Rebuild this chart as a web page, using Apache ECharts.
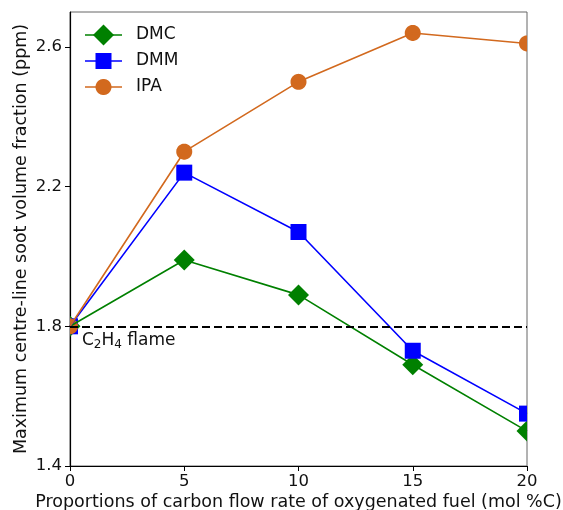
<!DOCTYPE html>
<html>
<head>
<meta charset="utf-8">
<script src="https://cdn.jsdelivr.net/npm/echarts@6/dist/echarts.min.js"></script>
<style>
  html, body { margin: 0; padding: 0; background: #fff; overflow: hidden; }
  #chart { width: 563px; height: 510px; }
</style>
</head>
<body>
<div id="chart"></div>
<script>
// Oxygenated fuel share (mol %C) on the x axis
const proportions = [0, 5, 10, 15, 20];
// Maximum centre-line soot volume fraction (ppm)
const dmcValues = [1.80, 1.99, 1.89, 1.69, 1.50];
const dmmValues = [1.80, 2.24, 2.07, 1.73, 1.55];
const ipaValues = [1.80, 2.30, 2.50, 2.64, 2.61];
// Reference ethylene flame level
const baselineValue = 1.80;
const yTicks = [1.4, 1.8, 2.2, 2.6];
const xTicks = [0, 5, 10, 15, 20];

const FONT = 'DejaVu Sans';
const pairs = vals => proportions.map((x, i) => [x, vals[i]]);

const SERIES_STYLE = [
  { name: 'DMC', vals: dmcValues, color: '#008000', shape: 'diamond', size: 21 },
  { name: 'DMM', vals: dmmValues, color: '#0000ff', shape: 'rect', size: 16 },
  { name: 'IPA', vals: ipaValues, color: '#d2691e', shape: 'circle', size: 16 }
];

const chart = echarts.init(document.getElementById('chart'), null, { renderer: 'canvas' });

// Connecting line for one fuel
function lineSeries(s) {
  return {
    name: s.name,
    type: 'line',
    data: pairs(s.vals),
    symbol: 'none',
    clip: true,
    lineStyle: { color: s.color, width: 1.6 },
    emphasis: { disabled: true },
    z: 3
  };
}

// Sutherland–Hodgman clipping of a polygon to an axis-aligned rectangle
function clipToRect(pts, r) {
  const edges = [
    [p => p[0] >= r.x,            (a, b) => { const t = (r.x - a[0]) / (b[0] - a[0]); return [r.x, a[1] + t * (b[1] - a[1])]; }],
    [p => p[0] <= r.x + r.width,  (a, b) => { const X = r.x + r.width; const t = (X - a[0]) / (b[0] - a[0]); return [X, a[1] + t * (b[1] - a[1])]; }],
    [p => p[1] >= r.y,            (a, b) => { const t = (r.y - a[1]) / (b[1] - a[1]); return [a[0] + t * (b[0] - a[0]), r.y]; }],
    [p => p[1] <= r.y + r.height, (a, b) => { const Y = r.y + r.height; const t = (Y - a[1]) / (b[1] - a[1]); return [a[0] + t * (b[0] - a[0]), Y]; }]
  ];
  let out = pts;
  for (const [inside, cross] of edges) {
    const input = out;
    out = [];
    for (let i = 0; i < input.length; i++) {
      const cur = input[i], prev = input[(i + input.length - 1) % input.length];
      if (inside(cur)) {
        if (!inside(prev)) out.push(cross(prev, cur));
        out.push(cur);
      } else if (inside(prev)) {
        out.push(cross(prev, cur));
      }
    }
    if (!out.length) break;
  }
  return out;
}

function shapePoints(shape, cx, cy, h) {
  if (shape === 'diamond') return [[cx, cy - h], [cx + h, cy], [cx, cy + h], [cx - h, cy]];
  if (shape === 'rect') return [[cx - h, cy - h], [cx + h, cy - h], [cx + h, cy + h], [cx - h, cy + h]];
  const pts = [];
  for (let k = 0; k < 64; k++) {
    const a = (k / 64) * Math.PI * 2;
    pts.push([cx + h * Math.cos(a), cy + h * Math.sin(a)]);
  }
  return pts;
}

// Markers for one fuel, cut to the plot rectangle
function markerSeries(s) {
  return {
    name: s.name + ' markers',
    type: 'custom',
    data: pairs(s.vals),
    clip: false,
    silent: true,
    z: 3,
    renderItem: function (params, api) {
      const p = api.coord([api.value(0), api.value(1)]);
      const cs = params.coordSys;
      const pts = clipToRect(shapePoints(s.shape, p[0], p[1], s.size / 2),
                             { x: cs.x, y: cs.y, width: cs.width, height: cs.height });
      return { type: 'polygon', shape: { points: pts }, style: { fill: s.color, stroke: null } };
    }
  };
}

// Legend drawn as line + marker + label rows
function legendGraphics() {
  const out = [];
  const x0 = 85, lineW = 37, rowY = [35, 61, 87];
  SERIES_STYLE.forEach((s, i) => {
    const y = rowY[i];
    out.push({ type: 'line', shape: { x1: x0, y1: y, x2: x0 + lineW, y2: y },
               style: { stroke: s.color, lineWidth: 1.6 }, z: 10 });
    out.push({ type: 'polygon', shape: { points: shapePoints(s.shape, x0 + lineW / 2, y, s.size / 2) },
               style: { fill: s.color }, z: 10 });
    out.push({ type: 'text', x: 136, y: y, z: 10,
               style: { text: s.name, fontFamily: FONT, fontSize: 17, fill: '#111', verticalAlign: 'middle' } });
  });
  return out;
}

const series = [{
  name: 'baseline',
  type: 'line',
  data: [],
  markLine: {
    silent: true,
    symbol: ['none', 'none'],
    lineStyle: { color: '#000', type: [8, 4], width: 2.2 },
    label: { show: false },
    data: [{ yAxis: baselineValue }]
  },
  z: 2
}];
SERIES_STYLE.forEach(s => { series.push(lineSeries(s)); series.push(markerSeries(s)); });

const option = {
  animation: false,
  backgroundColor: '#fff',
  textStyle: { fontFamily: FONT },
  grid: { left: 70, right: 36, top: 12, bottom: 44, containLabel: false, outerBoundsMode: 'none',
          show: true, borderColor: '#666', borderWidth: 1, backgroundColor: 'transparent' },
  xAxis: {
    type: 'value', min: 0, max: 20, interval: 5,
    name: 'Proportions of carbon flow rate of oxygenated fuel (mol %C)',
    nameLocation: 'middle', nameGap: 27, nameMoveOverlap: false,
    nameTextStyle: { fontFamily: FONT, fontSize: 17.5, color: '#111' },
    axisLine: { show: true, lineStyle: { color: '#000', width: 1.2 } },
    axisTick: { show: true, inside: false, length: 5, lineStyle: { color: '#000', width: 1 }, customValues: xTicks },
    axisLabel: { fontFamily: FONT, fontSize: 16.5, color: '#111', margin: 7, customValues: xTicks,
                 formatter: v => String(v) },
    splitLine: { show: false }
  },
  yAxis: {
    type: 'value', min: 1.4, max: 2.7, interval: 0.4,
    name: 'Maximum centre-line soot volume fraction (ppm)',
    nameLocation: 'middle', nameGap: 40, nameMoveOverlap: false,
    nameTextStyle: { fontFamily: FONT, fontSize: 17.5, color: '#111' },
    axisLine: { show: true, lineStyle: { color: '#000', width: 1.2 } },
    axisTick: { show: true, inside: false, length: 5, lineStyle: { color: '#000', width: 1 }, customValues: yTicks },
    axisLabel: { fontFamily: FONT, fontSize: 16.5, color: '#111', margin: 8, customValues: yTicks,
                 formatter: v => Number(v).toFixed(1) },
    splitLine: { show: false }
  },
  series: series
};

chart.setOption(option);

// Baseline caption placed from the axis scales, plus the legend rows
const [cx, cy] = chart.convertToPixel({ gridIndex: 0 }, [0, baselineValue]);
chart.setOption({
  graphic: [{
    type: 'text',
    left: cx + 12,
    top: cy + 6,
    style: {
      text: '{n|C}{s|2}{n|H}{s|4}{n| flame}',
      rich: {
        n: { fontFamily: FONT, fontSize: 17, fill: '#111', verticalAlign: 'bottom', lineHeight: 22 },
        s: { fontFamily: FONT, fontSize: 12, fill: '#111', verticalAlign: 'bottom', lineHeight: 15, padding: [0, 0, -2, 0] }
      }
    }
  }].concat(legendGraphics())
});
</script>
</body>
</html>
